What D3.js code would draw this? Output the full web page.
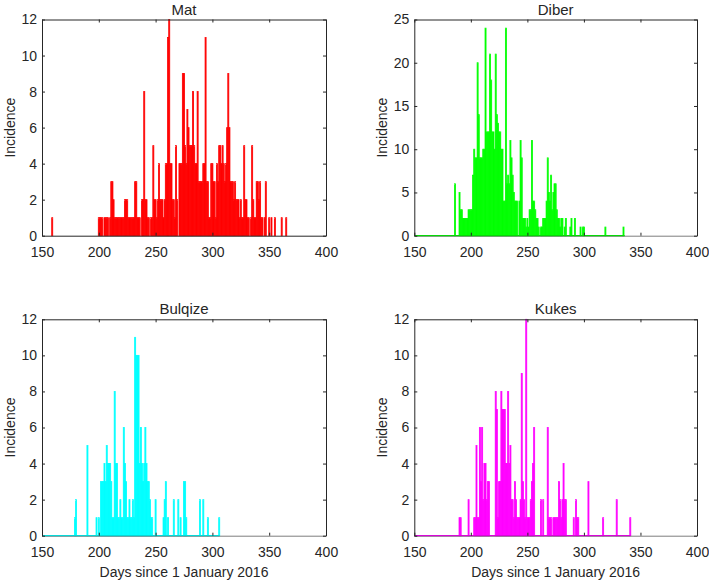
<!DOCTYPE html>
<html><head><meta charset="utf-8">
<script src="https://cdn.jsdelivr.net/npm/d3@7"></script>
<style>
body{margin:0;background:#fff}
text{font-family:"Liberation Sans",Arial,Helvetica,sans-serif;fill:#262626}
</style>
</head><body>
<svg id="chart" width="709" height="581"></svg>
<script>
// ---------------- DATA ----------------
const regionNames = ["Mat", "Diber", "Bulqize", "Kukes"];
const regionColors = ["#ff0000", "#00ff00", "#00ffff", "#ff00ff"];
const xTickValues = [150, 200, 250, 300, 350, 400];
const yTicksTwelve = [0, 2, 4, 6, 8, 10, 12];
const yTicksDiber = [0, 5, 10, 15, 20, 25];
const xAxisTitle = "Days since 1 January 2016";
const yAxisTitle = "Incidence";

// daily incidence, consecutive days starting at the given first day
const matFirstDay = 159;
const matCases = [
  1, 0,0,0,0,0,0,0,0,0,0, 0,0,0,0,0,0,0,0,0,0, 0,0,0,0,0,0,0,0,0,0, 0,0,0,0,0,0,0,0,0,0,
  1,1,1,1,0,1,1,1,1,0,
  1,3,3,2,1,1,1,1,1,1,
  1,1,1,2,2,2,1,1,1,1,
  1,1,3,3,1,1,1,0,2,2,
  8,2,2,1,1,0,1,1,5,2,
  2,1,2,4,2,2,2,1,2,4,
  4,11,12,4,4,2,2,1,5,2,
  0,4,4,4,9,9,5,4,7,6,
  5,5,5,8,5,4,4,8,3,3,
  3,3,4,4,11,3,3,1,1,4,
  4,3,3,1,4,3,5,5,4,5,
  4,3,4,6,9,6,3,3,3,2,
  3,2,2,2,1,2,1,1,5,2,
  2,1,1,0,1,5,2,1,1,3,
  3,2,3,1,1,0,1,3,0,0,
  1,0,1,0,0,1,0,0,0,0,
  0,1,0,0,0,1
];

const diberFirstDay = 186;
const diberCases = [
  6,0,0,0,5,3,3,2,2,2,
  2,2,3,3,3,3,7,10,9,9,
  20,14,9,9,9,10,10,24,12,12,
  12,21,18,12,12,10,21,14,13,12,
  12,10,10,4,4,24,6,7,6,11,
  9,7,5,4,4,4,0,4,11,9,
  2,2,2,1,2,1,3,3,11,4,
  4,3,2,2,1,0,1,1,2,2,
  2,4,9,5,4,7,3,5,6,6,
  3,2,2,1,2,2,0,1,2,0,
  0,0,1,2,0,0,2,0,0,0,
  0,1,0,1,1,0,0,0,0,0,
  0,0,0,0,0,0,0,0,0,0,
  0,0,0,1,0,0,0,0,0,0,
  0,0,0,0,0,0,0,0,0,1,
  0
];

const bulqizeFirstDay = 179;
const bulqizeCases = [
  1,2,0,0,0,0,0,0,0,0,
  0,5,0,0,0,0,0,0,0,1,
  0,1,0,3,3,3,4,3,5,4,
  4,4,3,1,1,8,4,4,1,1,
  2,1,1,6,4,3,1,1,2,1,
  1,2,1,11,10,10,10,4,6,4,
  3,4,6,4,3,3,2,1,1,0,
  0,2,0,0,0,0,0,0,1,2,
  3,0,1,0,0,0,0,2,0,0,
  0,2,0,1,0,0,3,3,1,0,
  0,0,0,0,0,0,0,0,0,0,
  2,0,0,2,0,0,0,1,0,0,
  0,0,0,0,0,0,0,1
];

const kukesFirstDay = 190;
const kukesCases = [
  1,1,0,0,0,0,0,0,2,0,
  0,0,0,1,1,5,1,1,6,3,
  6,2,4,4,2,3,3,0,0,0,
  0,0,8,7,1,3,3,8,7,7,
  7,4,4,8,4,5,2,2,1,3,
  2,1,1,1,2,9,3,2,1,12,
  1,1,1,2,3,4,6,0,0,0,
  0,0,2,0,2,0,0,0,6,1,
  1,1,0,1,1,1,1,1,3,2,
  1,2,4,2,2,0,0,0,0,0,
  0,1,0,2,1,1,0,0,0,0,
  0,0,0,0,3,0,0,0,0,0,
  0,0,0,0,0,0,0,1,0,0,
  0,0,0,0,0,0,0,0,0,2,
  0,0,0,0,0,0,0,0,0,0,
  0,1
];

// ---------------- LAYOUT ----------------
const svg = d3.select("#chart");
const axisColor = "#262626";
const cols = [[42, 326], [414.3, 697]];
const rows = [[19.5, 235.7], [319.3, 535.7]];

const panels = [
  {name: regionNames[0], first: matFirstDay, cases: matCases, color: regionColors[0], yMax: 12, yTicks: yTicksTwelve, col: 0, row: 0, baseline: false},
  {name: regionNames[1], first: diberFirstDay, cases: diberCases, color: regionColors[1], yMax: 25, yTicks: yTicksDiber, col: 1, row: 0, baseline: true},
  {name: regionNames[2], first: bulqizeFirstDay, cases: bulqizeCases, color: regionColors[2], yMax: 12, yTicks: yTicksTwelve, col: 0, row: 1, baseline: true},
  {name: regionNames[3], first: kukesFirstDay, cases: kukesCases, color: regionColors[3], yMax: 12, yTicks: yTicksTwelve, col: 1, row: 1, baseline: true}
];

panels.forEach(p => {
  const [x0, x1] = cols[p.col];
  const [y0, y1] = rows[p.row];
  const xs = d3.scaleLinear().domain([150, 400]).range([x0, x1]);
  const ys = d3.scaleLinear().domain([0, p.yMax]).range([y1, y0]);
  const g = svg.append("g");

  const data = p.cases.map((v, i) => ({day: p.first + i, v}));
  const lastDay = p.first + p.cases.length - 1;

  // bars
  g.append("g").selectAll("rect")
    .data(data.filter(d => d.v > 0))
    .join("rect")
    .attr("x", d => xs(d.day - 0.45))
    .attr("width", d => xs(d.day + 0.45) - xs(d.day - 0.45))
    .attr("y", d => ys(d.v))
    .attr("height", d => ys(0) - ys(d.v))
    .attr("fill", p.color)
    .attr("stroke", p.color)
    .attr("stroke-width", 0.8);

  // baseline in series colour
  if (p.baseline) {
    g.append("line")
      .attr("x1", xs(150)).attr("x2", xs(lastDay))
      .attr("y1", ys(0)).attr("y2", ys(0))
      .attr("stroke", p.color).attr("stroke-width", 1.2);
  }

  // box + inward ticks
  const tickLen = 3;
  const bottom = g.append("g").attr("transform", `translate(0,${y1})`)
    .call(d3.axisBottom(xs).tickValues(xTickValues).tickSizeInner(-tickLen).tickSizeOuter(0).tickPadding(11).tickFormat(d3.format("d")));
  const top = g.append("g").attr("transform", `translate(0,${y0})`)
    .call(d3.axisTop(xs).tickValues(xTickValues).tickSizeInner(-tickLen).tickSizeOuter(0).tickFormat(""));
  const left = g.append("g").attr("transform", `translate(${x0},0)`)
    .call(d3.axisLeft(ys).tickValues(p.yTicks).tickSizeInner(-tickLen).tickSizeOuter(0).tickPadding(5).tickFormat(d3.format("d")));
  const right = g.append("g").attr("transform", `translate(${x1},0)`)
    .call(d3.axisRight(ys).tickValues(p.yTicks).tickSizeInner(-tickLen).tickSizeOuter(0).tickFormat(""));
  [bottom, top, left, right].forEach(a => {
    a.select(".domain").attr("stroke", axisColor).attr("stroke-width", 1).attr("stroke-opacity", p.baseline && a === bottom ? 0.6 : 1);
    a.selectAll(".tick line").attr("stroke", axisColor).attr("stroke-width", 1);
    a.selectAll(".tick text").style("font-size", "14px").attr("fill", axisColor);
  });

  // title
  g.append("text")
    .attr("x", (x0 + x1) / 2).attr("y", y0 - 5)
    .attr("text-anchor", "middle")
    .style("font-size", "15px")
    .text(p.name);

  // y label
  g.append("text")
    .attr("transform", `translate(${x0 - 27},${(y0 + y1) / 2}) rotate(-90)`)
    .attr("text-anchor", "middle")
    .style("font-size", "14px")
    .text(yAxisTitle);

  if (p.row === 1) {
    g.append("text")
      .attr("x", (x0 + x1) / 2).attr("y", y1 + 41)
      .attr("text-anchor", "middle")
      .style("font-size", "14px")
      .text(xAxisTitle);
  }
});
</script>
</body></html>
